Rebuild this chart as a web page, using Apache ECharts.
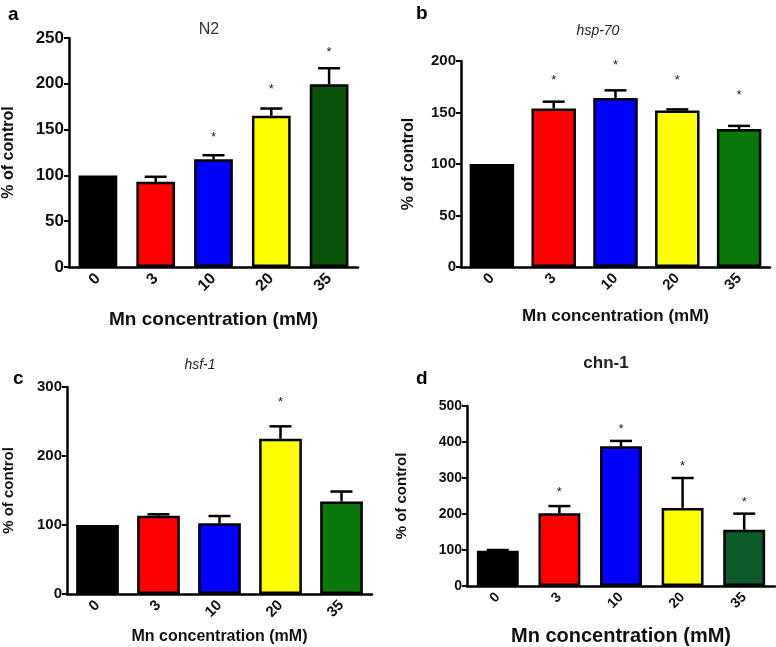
<!DOCTYPE html>
<html>
<head>
<meta charset="utf-8">
<script src="https://cdn.jsdelivr.net/npm/echarts@6/dist/echarts.min.js"></script>
<style>
html,body{margin:0;padding:0;background:#fff;}
#chart{width:776px;height:647px;}
</style>
</head>
<body>
<div id="chart"></div>
<script>
// ---- data ----
const categories = ['0', '3', '10', '20', '35'];

const meanA = [100, 93, 117.5, 165, 199.5];
const errTopA = [100.5, 98.5, 122, 173, 217];
const starA = [null, null, 141, 194, 234];

const meanB = [100, 154, 164, 152, 134];
const errTopB = [100, 160.5, 171.5, 153, 137];
const starB = [null, 181, 196, 181, 167];

const meanC = [100, 113.5, 102.5, 225, 134];
const errTopC = [100, 115.5, 113, 243, 148.5];
const starC = [null, null, null, 277, null];

const meanD = [98, 202, 388, 217, 156];
const errTopD = [100, 222, 403, 300, 201];
const starD = [null, 259, 434, 333, 233];

const barColorsA = ['#000000', '#ff0000', '#0000ff', '#ffff00', '#0a530a'];
const barColorsB = ['#000000', '#ff0000', '#0000ff', '#ffff00', '#0b780b'];
const barColorsC = ['#000000', '#ff0000', '#0000ff', '#ffff00', '#0b780b'];
const barColorsD = ['#000000', '#ff0000', '#0000ff', '#ffff00', '#0d5b2a'];

const FONT = '"Liberation Sans", Arial, Helvetica, sans-serif';

const panels = [
  {grid:{left:61, top:38, width:297, height:229}, max:250, interval:50, mean:meanA, err:errTopA, star:starA, colors:barColorsA,
   barWidth:'67%', cap:22, tickFont:17, xTickFont:16, xNameFont:19, xNameGap:43, yNameGap:52, yNameFont:16},
  {grid:{left:461, top:61, width:309, height:206}, max:200, interval:50, mean:meanB, err:errTopB, star:starB, colors:barColorsB,
   barWidth:'72%', cap:22, tickFont:15, xTickFont:15, xNameFont:17, xNameGap:41, yNameGap:44, yNameFont:16},
  {grid:{left:62, top:387, width:310, height:207}, max:300, interval:100, mean:meanC, err:errTopC, star:starC, colors:barColorsC,
   barWidth:'70%', cap:22, tickFont:15, xTickFont:15, xNameFont:16, xNameGap:35, yNameGap:51, yNameFont:15},
  {grid:{left:467, top:406, width:308, height:188}, max:500, interval:100, mean:meanD, err:errTopD, star:starD, colors:barColorsD,
   barWidth:'68%', cap:22, tickFont:14, xTickFont:14, xNameFont:20, xNameGap:40, yNameGap:58, yNameFont:15}
];

const grids = [], xAxes = [], yAxes = [], series = [];
panels.forEach((p, i) => {
  grids.push(Object.assign({containLabel:false}, p.grid));
  xAxes.push({
    type:'category', gridIndex:i, data:categories,
    name:'Mn concentration (mM)', nameLocation:'middle', nameGap:p.xNameGap,
    nameTextStyle:{fontFamily:FONT, fontWeight:'bold', fontSize:p.xNameFont, color:'#111'},
    axisLine:{lineStyle:{color:'#000', width:2.5}},
    axisTick:{alignWithLabel:true, length:5, lineStyle:{color:'#000', width:2}},
    axisLabel:{rotate:45, fontFamily:FONT, fontWeight:'bold', fontSize:p.xTickFont, color:'#111', margin:9},
    splitLine:{show:false}
  });
  yAxes.push({
    type:'value', gridIndex:i, min:0, max:p.max, interval:p.interval,
    name:'% of control', nameLocation:'middle', nameRotate:90, nameGap:p.yNameGap,
    nameTextStyle:{fontFamily:FONT, fontWeight:'bold', fontSize:p.yNameFont, color:'#111'},
    axisLine:{show:true, lineStyle:{color:'#000', width:2.5}},
    axisTick:{show:true, length:5, lineStyle:{color:'#000', width:2}},
    axisLabel:{fontFamily:FONT, fontWeight:'bold', fontSize:p.tickFont, color:'#111', margin:5},
    splitLine:{show:false}
  });
  series.push({
    type:'bar', xAxisIndex:i, yAxisIndex:i, barWidth:p.barWidth,
    data:p.mean.map((v, k) => ({value:v, itemStyle:{color:p.colors[k], borderColor:'#000', borderWidth:2.5}})),
    z:2
  });
  series.push({
    type:'custom', xAxisIndex:i, yAxisIndex:i, z:1,
    data:p.mean.map((v, k) => [k, v, p.err[k]]),
    renderItem:function(params, api){
      const x = api.value(0), m = api.value(1), e = api.value(2);
      if (e - m < 0.8) return null;
      const b = api.coord([x, m]);
      const t = api.coord([x, e]);
      const half = p.cap / 2;
      const style = {stroke:'#000', lineWidth:2.5};
      return {type:'group', children:[
        {type:'line', shape:{x1:b[0], y1:b[1], x2:t[0], y2:t[1]}, style:style},
        {type:'line', shape:{x1:t[0]-half, y1:t[1], x2:t[0]+half, y2:t[1]}, style:style}
      ]};
    }
  });
  series.push({
    type:'scatter', xAxisIndex:i, yAxisIndex:i, symbolSize:1, itemStyle:{opacity:0},
    data:p.star.map((v, k) => v == null ? null : [k, v]).filter(d => d),
    label:{show:true, position:'inside', formatter:'*', fontFamily:FONT, fontSize:13, color:'#222', opacity:1},
    silent:true
  });
});

const titles = [
  {text:'a', left:3, top:0, textStyle:{fontFamily:FONT, fontWeight:'bold', fontSize:19, color:'#000'}},
  {text:'b', left:411, top:-1, textStyle:{fontFamily:FONT, fontWeight:'bold', fontSize:19, color:'#000'}},
  {text:'c', left:8, top:364, textStyle:{fontFamily:FONT, fontWeight:'bold', fontSize:19, color:'#000'}},
  {text:'d', left:411, top:364, textStyle:{fontFamily:FONT, fontWeight:'bold', fontSize:19, color:'#000'}},
  {text:'N2', left:204, top:17, textAlign:'center', textStyle:{fontFamily:FONT, fontWeight:'normal', fontSize:16, color:'#333'}},
  {text:'hsp-70', left:593, top:19, textAlign:'center', textStyle:{fontFamily:FONT, fontStyle:'italic', fontWeight:'normal', fontSize:14, color:'#222'}},
  {text:'hsf-1', left:195, top:353, textAlign:'center', textStyle:{fontFamily:FONT, fontStyle:'italic', fontWeight:'normal', fontSize:14, color:'#222'}},
  {text:'chn-1', left:601, top:350, textAlign:'center', textStyle:{fontFamily:FONT, fontWeight:'bold', fontSize:17, color:'#222'}}
];

const chart = echarts.init(document.getElementById('chart'), null, {renderer:'canvas'});
chart.setOption({
  animation:false,
  backgroundColor:'#ffffff',
  title:titles,
  grid:grids, xAxis:xAxes, yAxis:yAxes, series:series
});
</script>
</body>
</html>
